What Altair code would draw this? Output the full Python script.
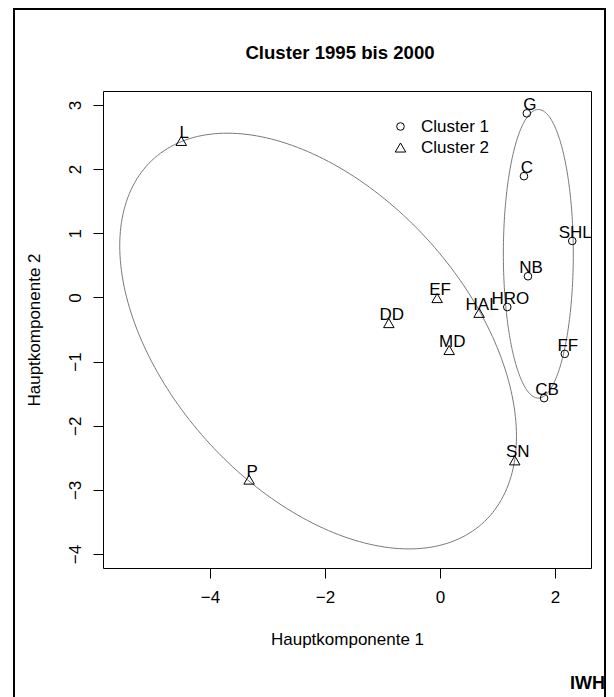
import altair as alt
import numpy as np
import pandas as pd

# ---- data ----
city = ["G", "C", "SHL", "NB", "HRO", "FF", "CB", "L", "EF", "HAL", "DD", "MD", "SN", "P"]
pc1 = [1.51, 1.46, 2.30, 1.53, 1.17, 2.17, 1.81, -4.50, -0.05, 0.68, -0.89, 0.16, 1.30, -3.32]
pc2 = [2.87, 1.89, 0.88, 0.33, -0.15, -0.88, -1.57, 2.44, -0.01, -0.24, -0.40, -0.82, -2.54, -2.84]
cluster = ["Cluster 1"] * 7 + ["Cluster 2"] * 7

# ellipse (cluster hull) parameters: centre and shape matrix
ell_cluster = ["Cluster 1", "Cluster 2"]
ell_cx = [1.71, -2.12]
ell_cy = [0.68, -0.68]
ell_sxx = [0.37, 11.9]
ell_syy = [5.06, 10.5]
ell_sxy = [0.0, -5.12]

x_ticks = [-4, -2, 0, 2]
y_ticks = [-4, -3, -2, -1, 0, 1, 2, 3]
x_domain = [-5.861, 2.626]
y_domain = [-4.218, 3.218]

FONT = "Liberation Sans"
FS = 17

pts = pd.DataFrame({"city": city, "pc1": pc1, "pc2": pc2, "cluster": cluster})

rows = []
t = np.linspace(0, 2 * np.pi, 241)
for k in range(len(ell_cluster)):
    m = np.array([[ell_sxx[k], ell_sxy[k]], [ell_sxy[k], ell_syy[k]]])
    L = np.linalg.cholesky(m)
    xy = L @ np.vstack([np.cos(t), np.sin(t)])
    for i in range(len(t)):
        rows.append({"grp": ell_cluster[k], "i": i,
                     "pc1": ell_cx[k] + xy[0, i], "pc2": ell_cy[k] + xy[1, i]})
ell = pd.DataFrame(rows)

xs = alt.Scale(domain=x_domain, nice=False, zero=False)
ys = alt.Scale(domain=y_domain, nice=False, zero=False)

x_axis = alt.Axis(values=x_ticks, title="Hauptkomponente 1", grid=False, domain=False,
                  tickColor="black", tickSize=10, labelFontSize=FS, labelFont=FONT,
                  labelColor="black", labelPadding=11, titleFont=FONT, titleFontSize=FS,
                  titleFontWeight="normal", titleColor="black", titleY=76,
                  titleBaseline="alphabetic", format="d", labelFlush=False)
y_axis = alt.Axis(values=y_ticks, title="Hauptkomponente 2", grid=False, domain=False,
                  tickColor="black", tickSize=10, labelFontSize=FS, labelFont=FONT,
                  labelColor="black", labelAngle=270, labelAlign="center",
                  labelBaseline="alphabetic", labelPadding=13, titleFont=FONT,
                  titleFontSize=FS, titleFontWeight="normal", titleColor="black",
                  titleX=-64, titleAngle=270, titleBaseline="alphabetic",
                  format="d", labelFlush=False)

X = alt.X("pc1:Q", scale=xs, axis=x_axis)
Y = alt.Y("pc2:Q", scale=ys, axis=y_axis)

legend = alt.Legend(title=None, orient="none", legendX=289, legendY=27,
                    labelFont=FONT, labelFontSize=FS, labelColor="black",
                    symbolStrokeColor="black", symbolFillColor="transparent",
                    symbolStrokeWidth=1, labelOffset=12, rowPadding=3, padding=0)

ellipses = alt.Chart(ell).mark_line(color="#7a7a7a", strokeWidth=1).encode(
    x=X, y=Y, detail="grp:N", order="i:Q",
)

points = alt.Chart(pts).mark_point(filled=False, color="black", strokeWidth=1, opacity=1).encode(
    x=X, y=Y,
    shape=alt.Shape("cluster:N",
                    scale=alt.Scale(domain=["Cluster 1", "Cluster 2"], range=["circle", "triangle-up"]),
                    legend=legend),
    size=alt.Size("cluster:N",
                  scale=alt.Scale(domain=["Cluster 1", "Cluster 2"], range=[58, 110]),
                  legend=legend),
)

labels = alt.Chart(pts).mark_text(font=FONT, fontSize=FS, color="black", dx=3, dy=-8,
                                  baseline="middle", align="center").encode(
    x=X, y=Y, text="city:N",
)

title = alt.Chart(pd.DataFrame({"t": ["Cluster 1995 bis 2000"]})).mark_text(
    font=FONT, fontSize=18.6, fontWeight="bold", color="black", align="center",
    baseline="alphabetic").encode(
    x=alt.value(237), y=alt.value(-32), text="t:N")

iwh = alt.Chart(pd.DataFrame({"t": ["IWH"]})).mark_text(
    font=FONT, fontSize=18, fontWeight="bold", color="black", align="right",
    baseline="alphabetic").encode(
    x=alt.value(502), y=alt.value(598), text="t:N")

frame = alt.Chart(pd.DataFrame({"a": [0]})).mark_rect(
    fill="transparent", stroke="black", strokeWidth=2).encode(
    x=alt.value(-89), x2=alt.value(502), y=alt.value(-82), y2=alt.value(640))

chart = alt.layer(frame, ellipses, points, labels, title, iwh).properties(
    width=488, height=477,
    autosize=alt.AutoSizeParams(type="none"),
    padding={"left": 95, "top": 83, "right": 15, "bottom": 129},
).configure(background="white").configure_view(stroke="black", strokeWidth=1)

chart.save("out.html", embed_options={"renderer": "svg", "actions": False})
